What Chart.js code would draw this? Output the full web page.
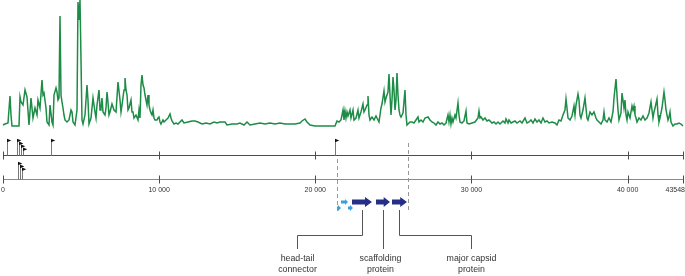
<!DOCTYPE html>
<html><head><meta charset="utf-8">
<script src="https://cdn.jsdelivr.net/npm/chart.js@4.4.1/dist/chart.umd.min.js"></script>
<style>html,body{margin:0;padding:0;background:#fff}#wrap{width:685px;height:276px;position:relative}</style>
</head><body><div id="wrap"><canvas id="c"></canvas></div>
<script>
// ---------------- DATA ----------------
const genomeLength = 43548;
const coveragePos = [0,128,320,448,512,576,1025,1089,1153,1281,1409,1537,1665,1793,1921,2049,2177,2241,2369,2498,2562,2626,2754,2818,2946,3010,3138,3202,3266,3394,3458,3522,3586,3650,3714,3778,3842,3906,3970,4099,4227,4355,4419,4483,4611,4739,4803,4867,4931,4995,5059,5123,5251,5379,5443,5507,5636,5764,5828,5892,5956,6020,6148,6212,6276,6340,6404,6532,6596,6660,6724,6788,6852,6980,7108,7237,7365,7493,7557,7621,7749,7813,7877,7941,8005,8069,8197,8261,8325,8389,8517,8645,8709,8773,8838,8902,8966,9030,9094,9158,9222,9286,9350,9414,9478,9542,9606,9670,9734,9862,9926,9990,10054,10118,10246,10310,10439,10567,10695,10759,10823,10951,11079,11207,11463,11591,11847,12104,12296,12488,12744,13000,13256,13512,13705,13897,14217,14345,14665,14985,15177,15434,15626,15818,16138,16458,16778,17099,17419,17739,18059,18379,18700,19020,19148,19340,19468,19660,19980,20301,20621,20941,21261,21389,21517,21646,21774,21838,21902,21966,22030,22094,22222,22286,22414,22478,22606,22734,22798,22926,23054,23118,23182,23311,23375,23439,23503,23631,23759,23887,24015,24079,24207,24271,24399,24463,24527,24655,24719,24783,24847,24912,24976,25040,25104,25168,25232,25296,25360,25424,25488,25616,25744,25808,25872,25936,26064,26192,26320,26577,26641,26769,26897,27025,27217,27345,27473,27601,27729,27857,27985,28114,28242,28370,28498,28562,28626,28690,28754,28818,28946,29010,29138,29202,29266,29394,29522,29651,29715,29843,30035,30227,30419,30483,30547,30611,30739,30867,30995,31123,31316,31444,31572,31700,31828,32020,32148,32212,32340,32404,32532,32660,32788,32917,33109,33237,33429,33557,33685,33813,33941,34069,34197,34325,34454,34582,34710,34838,34966,35158,35350,35478,35606,35734,35862,35990,36055,36119,36183,36311,36439,36567,36631,36695,36823,36887,36951,37015,37143,37271,37335,37399,37463,37592,37720,37848,37976,38040,38168,38296,38424,38488,38552,38680,38809,38937,39065,39129,39257,39321,39385,39449,39577,39641,39705,39769,39833,39898,39962,40026,40154,40282,40346,40410,40474,40538,40602,40730,40858,40986,41114,41242,41370,41498,41563,41627,41691,41755,41883,41947,42011,42075,42203,42331,42395,42459,42587,42651,42715,42779,42907,43035,43164,43292,43420,43548];
const coverageDepth = [2,3,4,31,12,1,1,30,25,22,37,30,2,29,9,19,12,27,19,47,32,34,19,5,2,22,5,2,32,39,35,27,29,111,32,25,19,12,7,5,7,17,15,5,2,17,125,107,127,67,7,3,12,42,27,3,9,29,22,15,9,22,37,17,19,29,15,12,19,35,25,12,15,23,17,15,45,27,15,22,37,49,37,32,17,19,27,15,15,9,12,7,17,9,42,52,42,39,32,27,22,32,22,17,14,12,17,9,7,7,9,10,5,3,7,5,7,9,13,9,6,3,4,3,7,4,5,6,6,5,3,4,3,5,4,5,5,2,3,3,4,2,5,2,3,4,3,4,3,4,3,3,3,4,6,8,5,2,1,1,1,1,1,6,5,7,17,7,16,9,15,11,17,9,17,7,9,17,9,15,23,15,17,22,31,12,7,10,7,11,7,5,19,23,36,25,29,35,53,32,12,27,50,37,17,27,54,32,17,12,10,14,37,12,2,3,5,5,4,10,5,7,5,9,10,7,5,4,2,5,3,4,2,4,12,5,12,3,9,5,12,9,24,12,5,4,6,16,4,3,4,5,9,16,9,10,7,9,6,7,4,5,3,5,3,6,4,8,4,7,4,5,6,4,6,4,9,4,5,7,4,8,5,7,4,9,5,6,4,5,4,2,7,6,12,17,28,19,9,7,11,21,12,22,33,27,12,9,17,29,19,9,7,15,12,15,9,7,5,3,7,15,7,5,9,5,15,29,48,32,17,7,14,34,27,19,27,12,7,15,9,21,17,21,12,9,5,9,7,11,7,9,14,25,17,9,15,19,28,12,5,9,19,35,27,17,7,10,15,5,1,3,3,4,3,1];
const axisTicks = [0, 10000, 20000, 30000, 40000, 43548];
const axisTickLabels = ['0', '10 000', '20 000', '30 000', '40 000', '43548'];
const promotersTrack1 = [256, 916, 1044, 1172, 1300, 3074, 21261];
const promotersTrack2 = [941, 1069, 1198];
const geneStart = [21646, 21389, 22094, 22350, 23887, 24912];
const geneEnd   = [22094, 21646, 22414, 23631, 24783, 25872];
const geneRow   = [0, 1, 1, 0, 0, 0];
const geneKind  = ['minor', 'minor', 'minor', 'major', 'major', 'major'];
const geneLabel = [null, null, null, ['head-tail', 'connector'], ['scaffolding', 'protein'], ['major capsid', 'protein']];
const regionBounds = [21389, 25936];

// ---------------- LAYOUT / STYLE ----------------
const LAYOUT = {
  track1Y: 155.5, track2Y: 179.5, tickHalf: 4, tickLabelY: 190,
  geneRowY: [202, 208], regionTop: [159, 143], regionBottom: 211,
  calloutTop: 210, elbowY: 235.5, labelLineEnd: 249, labelY: [259, 270],
  labelShift: [null, null, null, -66, -3, 71]
};

const tracksPlugin = {
  id: 'tracks',
  afterDatasetsDraw(chart) {
    const ctx = chart.ctx, xs = chart.scales.x, L = LAYOUT;
    const X = v => xs.getPixelForValue(v);
    const R = v => Math.round(v) + 0.5;
    ctx.save();
    // two genome tracks with promoter flags
    [[L.track1Y, '#4d4d4d', promotersTrack1, 15], [L.track2Y, '#8a8a8a', promotersTrack2, 16]].forEach(([y, col, proms, h]) => {
      ctx.strokeStyle = col; ctx.lineWidth = 1;
      ctx.beginPath(); ctx.moveTo(X(0), y); ctx.lineTo(X(genomeLength), y); ctx.stroke();
      ctx.strokeStyle = '#4d4d4d';
      axisTicks.forEach(t => { const x = R(X(t)); ctx.beginPath(); ctx.moveTo(x, y - L.tickHalf); ctx.lineTo(x, y + L.tickHalf); ctx.stroke(); });
      let level = 0, prev = -1e9;
      proms.forEach(p => {
        level = (p - prev < 400) ? level + 1 : 0; prev = p;
        const x = R(X(p)), top = y - h + level * 2.9;
        ctx.strokeStyle = '#777'; ctx.lineWidth = 1;
        ctx.beginPath(); ctx.moveTo(x, y); ctx.lineTo(x, top); ctx.stroke();
        ctx.fillStyle = '#111';
        ctx.beginPath(); ctx.moveTo(x - 0.5, top - 1.8); ctx.lineTo(x + 3.8, top); ctx.lineTo(x - 0.5, top + 1.8); ctx.closePath(); ctx.fill();
      });
    });
    // axis tick labels
    ctx.fillStyle = '#333'; ctx.font = '7px "Liberation Sans", Arial, sans-serif'; ctx.textBaseline = 'middle';
    axisTicks.forEach((t, i) => {
      const last = i === axisTicks.length - 1;
      ctx.textAlign = last ? 'right' : 'center';
      ctx.fillText(axisTickLabels[i], last ? X(t) + 2 : X(t), L.tickLabelY);
    });
    // dashed region boundaries
    ctx.strokeStyle = '#8c8c8c'; ctx.lineWidth = 0.9; ctx.setLineDash([4, 3]);
    regionBounds.forEach((b, i) => { const x = R(X(b)); ctx.beginPath(); ctx.moveTo(x, L.regionTop[i]); ctx.lineTo(x, L.regionBottom); ctx.stroke(); });
    ctx.setLineDash([]);
    // genes
    geneStart.forEach((s, i) => {
      const x0 = X(s), x1 = X(geneEnd[i]), y = L.geneRowY[geneRow[i]];
      const major = geneKind[i] === 'major';
      const bh = major ? 2.4 : 1.4, hh = major ? 5 : 3, hl = major ? Math.min(7, (x1 - x0) * 0.45) : 3;
      ctx.fillStyle = major ? '#262f86' : '#3a9fdc';
      ctx.beginPath();
      ctx.moveTo(x0, y - bh); ctx.lineTo(x1 - hl, y - bh); ctx.lineTo(x1 - hl, y - hh); ctx.lineTo(x1, y);
      ctx.lineTo(x1 - hl, y + hh); ctx.lineTo(x1 - hl, y + bh); ctx.lineTo(x0, y + bh); ctx.closePath(); ctx.fill();
    });
    // callouts and labels
    ctx.strokeStyle = '#555'; ctx.lineWidth = 1;
    ctx.fillStyle = '#333'; ctx.font = '8.8px "Liberation Sans", Arial, sans-serif'; ctx.textAlign = 'center';
    geneLabel.forEach((lab, i) => {
      if (!lab) return;
      const gx = R(X((geneStart[i] + geneEnd[i]) / 2)), lx = R(gx + L.labelShift[i]);
      ctx.beginPath(); ctx.moveTo(gx, L.calloutTop);
      if (Math.abs(lx - gx) > 4) { ctx.lineTo(gx, L.elbowY); ctx.lineTo(lx, L.elbowY); ctx.lineTo(lx, L.labelLineEnd); }
      else ctx.lineTo(gx, L.labelLineEnd);
      ctx.stroke();
      const tx = Math.abs(lx - gx) > 4 ? lx : gx + L.labelShift[i];
      lab.forEach((line, k) => ctx.fillText(line, tx, L.labelY[k]));
    });
    ctx.restore();
  }
};

new Chart(document.getElementById('c'), {
  type: 'line',
  data: {
    datasets: [{
      data: coveragePos.map((p, i) => ({ x: p, y: coverageDepth[i] })),
      borderColor: '#1c8c46', borderWidth: 1.5, pointRadius: 0, tension: 0, fill: false, clip: false
    }]
  },
  options: {
    responsive: true, maintainAspectRatio: false, animation: false,
    layout: { padding: { left: 3, right: 2, top: 1, bottom: 0 } },
    plugins: { legend: { display: false }, tooltip: { enabled: false } },
    scales: {
      x: { type: 'linear', min: 0, max: genomeLength, display: false },
      y: { min: -149, max: 126, display: false }
    }
  },
  plugins: [tracksPlugin]
});
</script>
</body></html>
